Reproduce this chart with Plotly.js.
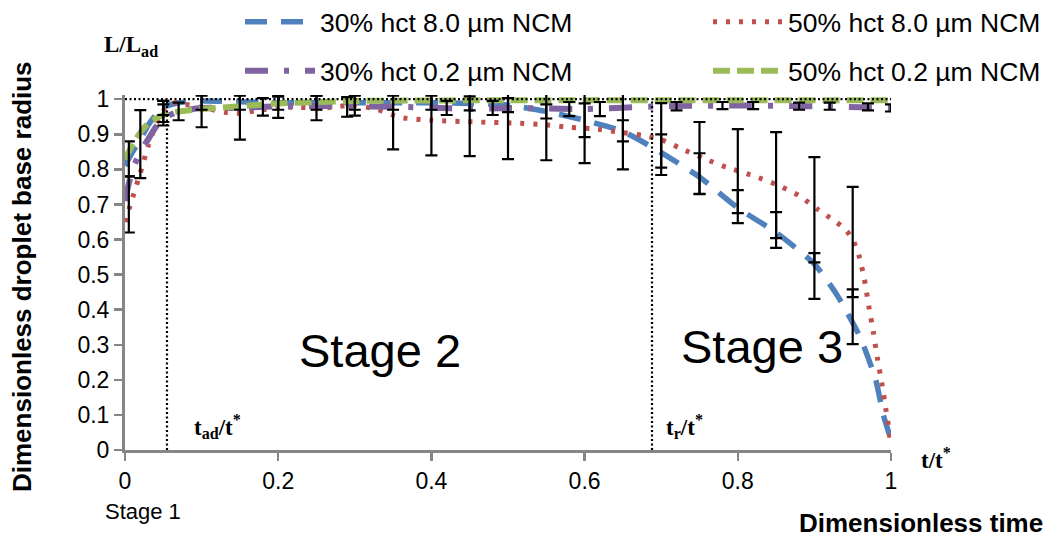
<!DOCTYPE html>
<html>
<head>
<meta charset="utf-8">
<script src="https://cdn.plot.ly/plotly-3.0.1.min.js"></script>
<style>html,body{margin:0;padding:0;background:#fff;}#chart{width:1051px;height:539px;}</style>
</head>
<body>
<div id="chart"></div>
<script>
// ---- Data ----
const seriesNames = ["30% hct 8.0 µm NCM", "50% hct 8.0 µm NCM", "30% hct 0.2 µm NCM", "50% hct 0.2 µm NCM"];

const blueX = [0,0.01,0.02,0.03,0.04,0.05,0.07,0.1,0.2,0.3,0.4,0.45,0.5,0.55,0.6,0.65,0.7,0.75,0.8,0.85,0.9,0.93,0.96,0.98,0.99,1.0];
const blueY = [0.81,0.85,0.885,0.925,0.955,0.977,0.99,0.995,0.99,0.99,0.99,0.988,0.983,0.965,0.94,0.908,0.848,0.778,0.69,0.62,0.53,0.44,0.32,0.2,0.1,0.03];

const redX = [0,0.01,0.02,0.03,0.04,0.05,0.065,0.08,0.11,0.13,0.15,0.17,0.21,0.26,0.30,0.33,0.36,0.40,0.46,0.51,0.55,0.58,0.61,0.645,0.675,0.70,0.725,0.755,0.785,0.82,0.85,0.88,0.905,0.925,0.94,0.95,0.958,0.965,0.971,0.977,0.982,0.988,0.993,0.998,1.0];
const redY = [0.65,0.72,0.79,0.865,0.925,0.967,0.99,0.985,0.972,0.963,0.96,0.967,0.977,0.975,0.983,0.97,0.948,0.94,0.935,0.932,0.927,0.92,0.916,0.906,0.897,0.885,0.86,0.832,0.806,0.782,0.757,0.725,0.685,0.655,0.63,0.6,0.555,0.49,0.41,0.335,0.265,0.19,0.12,0.05,0.01];

const purpleX = [0,0.005,0.01,0.02,0.03,0.04,0.05,0.07,0.1,0.15,0.2,0.3,0.4,0.45,0.5,0.6,0.7,0.8,0.9,1.0];
const purpleY = [0.71,0.76,0.80,0.85,0.885,0.92,0.945,0.965,0.975,0.975,0.98,0.98,0.976,0.972,0.975,0.972,0.98,0.982,0.98,0.975];

const greenX = [0,0.01,0.02,0.03,0.04,0.05,0.07,0.1,0.15,0.2,0.3,0.5,0.7,1.0];
const greenY = [0.83,0.87,0.905,0.93,0.945,0.955,0.965,0.972,0.98,0.988,0.995,0.997,0.997,0.997];

// error bars (centre value, half-range)
const redErrX = [0.005,0.05,0.1,0.15,0.2,0.25,0.3,0.35,0.4,0.45,0.5,0.55,0.6,0.65,0.7,0.75,0.8,0.85,0.9,0.95];
const redErrY = [0.70,0.965,0.97,0.96,0.977,0.975,0.983,0.95,0.945,0.943,0.935,0.93,0.924,0.91,0.897,0.832,0.795,0.755,0.685,0.593];
const redErr  = [0.08,0.03,0.05,0.075,0.03,0.035,0.03,0.093,0.105,0.105,0.106,0.104,0.106,0.11,0.092,0.103,0.12,0.151,0.15,0.157];

const blueErrX = [0.02,0.05,0.1,0.15,0.2,0.25,0.3,0.35,0.4,0.45,0.5,0.55,0.6,0.65,0.7,0.75,0.8,0.85,0.9,0.95];
const blueErrY = [0.872,0.975,0.99,0.99,0.99,0.99,0.99,0.99,0.99,0.988,0.983,0.965,0.94,0.91,0.842,0.788,0.694,0.627,0.496,0.38];
const blueErr  = [0.097,0.02,0.02,0.02,0.02,0.02,0.02,0.02,0.02,0.02,0.02,0.02,0.048,0.03,0.058,0.058,0.047,0.051,0.065,0.078];

const purpleErrX = [0.005,0.05,0.07,0.18,0.29,0.42,0.48,0.58,0.62,0.72,0.78,0.82,0.88,0.92,0.97,1.0];
const purpleErrY = [0.83,0.955,0.965,0.978,0.978,0.975,0.975,0.972,0.972,0.98,0.982,0.982,0.98,0.98,0.978,0.975];
const purpleErr  = [0.05,0.03,0.025,0.025,0.028,0.02,0.02,0.02,0.02,0.012,0.01,0.01,0.01,0.01,0.01,0.01];

// ---- styles ----
const FONT = "Liberation Sans, Arial, sans-serif";
const SERIF = "Liberation Serif, Times New Roman, serif";
const cBlue = "#4F81BD", cRed = "#C0504D", cPurple = "#8064A2", cGreen = "#9BBB59";

function line(x, y, name, color, dash, width, legend) {
  return {x: x, y: y, name: name, mode: "lines", type: "scatter", legend: legend,
    line: {color: color, dash: dash, width: width, shape: "spline", smoothing: 0.6}};
}
function errs(x, y, e) {
  return {x: x, y: y, mode: "markers", type: "scatter", showlegend: false, hoverinfo: "skip",
    marker: {size: 1, color: "rgba(0,0,0,0)"},
    error_y: {type: "data", array: e, symmetric: true, color: "#000", thickness: 2.2, width: 6}};
}

const traces = [
  line(blueX, blueY, seriesNames[0], cBlue, "22px,14px", 5.5, "legend"),
  line(redX, redY, seriesNames[1], cRed, "4px,9px", 5, "legend2"),
  line(purpleX, purpleY, seriesNames[2], cPurple, "23px,16px,5px,16px", 6, "legend3"),
  line(greenX, greenY, seriesNames[3], cGreen, "17px,7px", 6, "legend4"),
  errs(purpleErrX, purpleErrY, purpleErr),
  errs(blueErrX, blueErrY, blueErr),
  errs(redErrX, redErrY, redErr)
];

const T = 95, B = 89, L = 125, R = 160, H = 539 - T - B, W = 1051 - L - R;
const px = p => (p - L) / W;
const py = p => (539 - B - p) / H;

const dotted = {color: "#000", width: 2.2, dash: "2px,2.5px"};
const shapes = [
  {type: "line", xref: "x", yref: "y", x0: 0, x1: 1, y0: 1, y1: 1, line: dotted},
  {type: "line", xref: "x", yref: "y", x0: 0.0548, x1: 0.0548, y0: 0, y1: 1, line: dotted},
  {type: "line", xref: "x", yref: "y", x0: 0.688, x1: 0.688, y0: 0, y1: 1, line: dotted},
  {type: "line", xref: "x", yref: "y", x0: 1.002, x1: 1.002, y0: 0, y1: 1, line: dotted}
];

function ann(text, x, y, size, family, extra) {
  return Object.assign({text: text, xref: "paper", yref: "paper", x: px(x), y: py(y),
    showarrow: false, xanchor: "center", yanchor: "middle",
    font: {family: family, size: size, color: "#000"}}, extra || {});
}

const annotations = [
  ann("<b>L/L<sub>ad</sub></b>", 131, 46, 23, SERIF),
  ann("<b>t<sub>ad</sub>/t<sup>*</sup></b>", 217, 426, 23, SERIF),
  ann("<b>t<sub>r</sub>/t<sup>*</sup></b>", 684, 426, 23, SERIF),
  ann("<b>t/t<sup>*</sup></b>", 936, 458, 23, SERIF),
  ann("Stage 1", 143, 511, 22, FONT),
  ann("Stage 2", 380, 350, 47, FONT),
  ann("Stage 3", 762, 346, 47, FONT),
  ann("<b>Dimensionless time</b>", 921, 523, 26, FONT),
  ann("<b>Dimensionless droplet base radius</b>", 22, 277, 26, FONT, {textangle: -90})
];

function leg(xp, yp) {
  return {orientation: "h", xanchor: "left", yanchor: "middle",
    x: px(xp), y: py(yp), itemwidth: 70,
    bgcolor: "rgba(0,0,0,0)", borderwidth: 0,
    font: {family: FONT, size: 26.5, color: "#000"}};
}

const layout = {
  width: 1051, height: 539,
  margin: {l: L, r: R, t: T, b: B, pad: 0, autoexpand: false},
  paper_bgcolor: "#fff", plot_bgcolor: "#fff",
  showlegend: true,
  legend: leg(240, 22),
  legend2: leg(708, 22),
  legend3: leg(240, 71),
  legend4: leg(708, 71),
  xaxis: {range: [0, 1], dtick: 0.2, tick0: 0, showgrid: false, zeroline: false,
    showline: true, linecolor: "#868686", linewidth: 3,
    ticks: "outside", ticklen: 8, tickwidth: 2.5, tickcolor: "#868686",
    tickfont: {family: FONT, size: 23, color: "#000"}},
  yaxis: {range: [0, 1.012], dtick: 0.1, tick0: 0, showgrid: false, zeroline: false,
    showline: true, linecolor: "#868686", linewidth: 3,
    ticks: "outside", ticklen: 8, tickwidth: 2.5, tickcolor: "#868686",
    tickfont: {family: FONT, size: 23, color: "#000"}},
  shapes: shapes,
  annotations: annotations
};

Plotly.newPlot("chart", traces, layout, {displayModeBar: false, staticPlot: true});
</script>
</body>
</html>
